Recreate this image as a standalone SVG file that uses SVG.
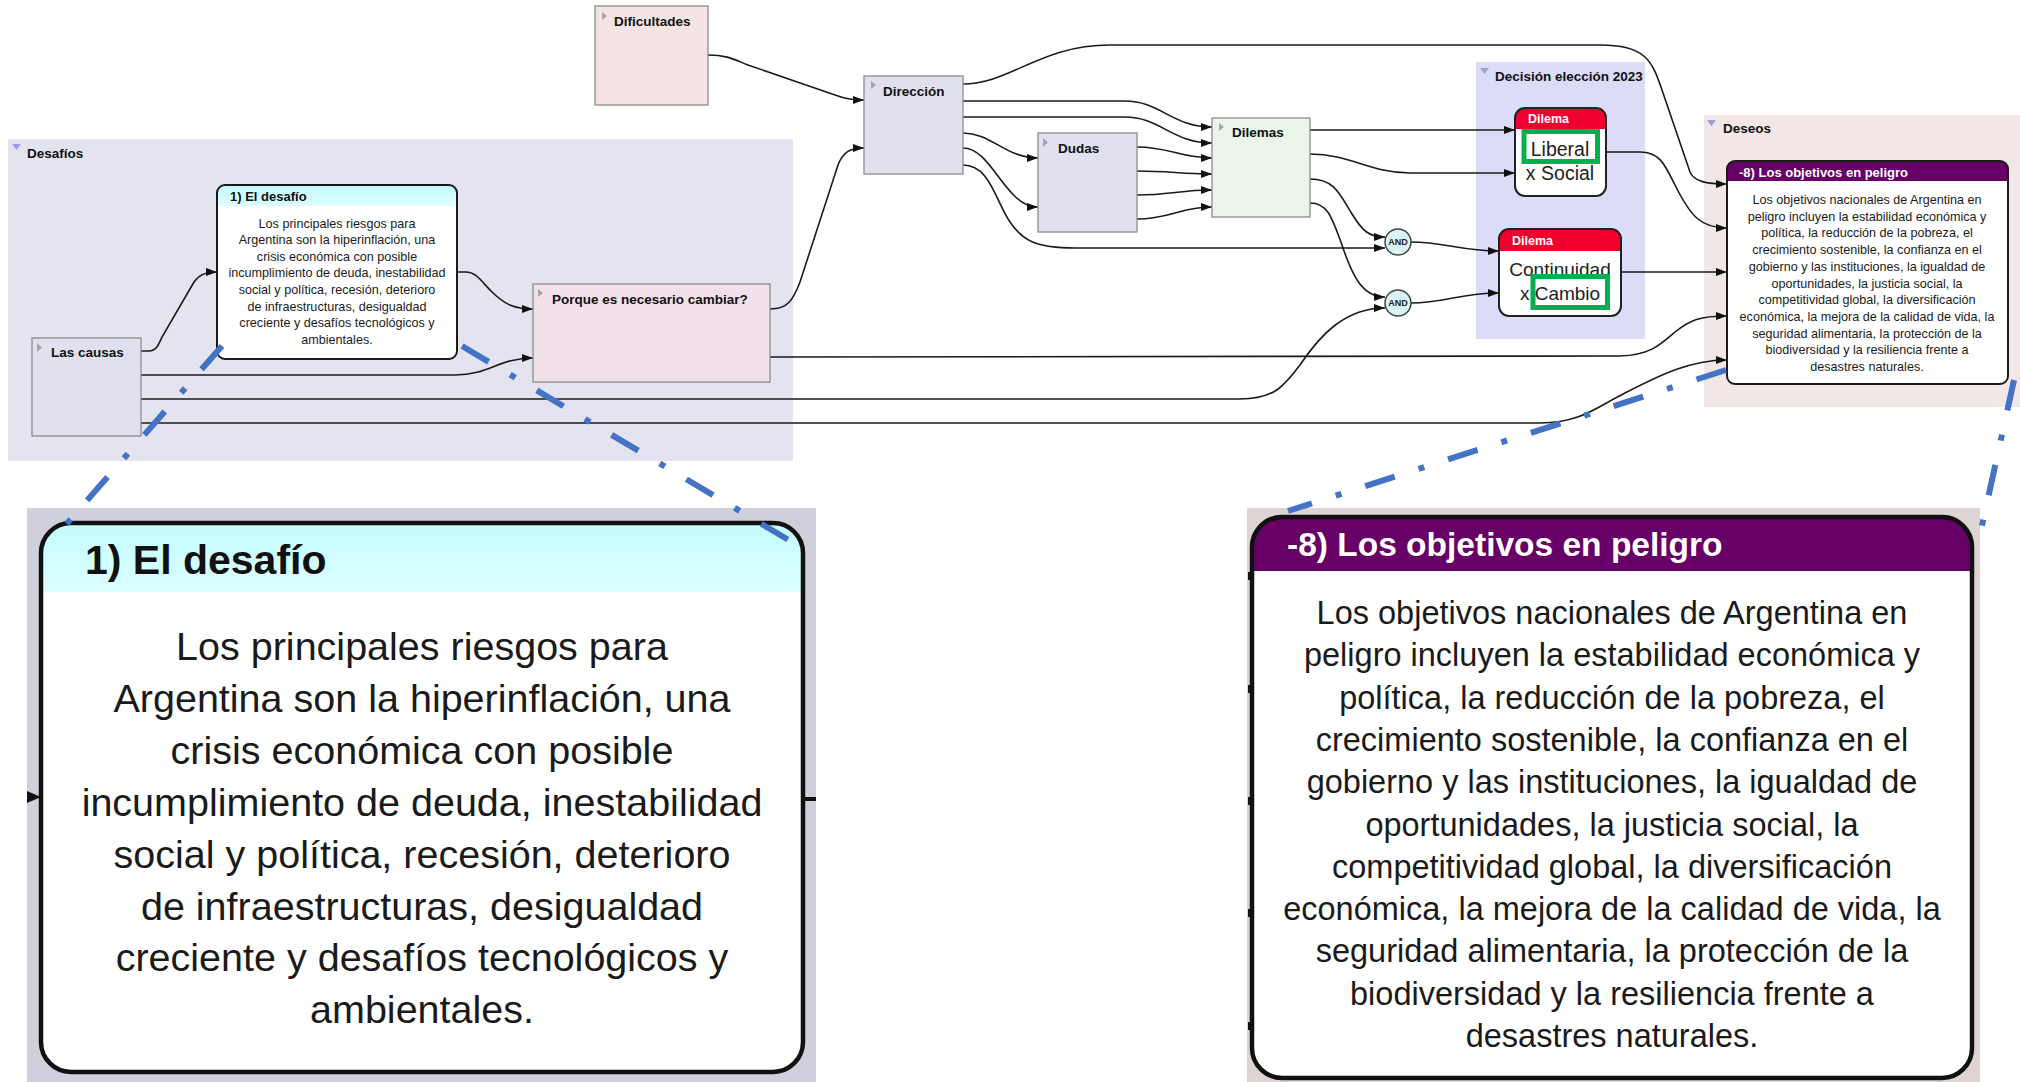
<svg xmlns="http://www.w3.org/2000/svg" width="2020" height="1082" viewBox="0 0 2020 1082">
<defs>
<style>
.conn{fill:none;stroke:#1a1a1a;stroke-width:1.6;marker-end:url(#ah)}
.box{stroke:#8c8c8c;stroke-width:1.3}
.lbl{font-family:'Liberation Sans',Arial,sans-serif;font-weight:bold;font-size:13.5px;fill:#111}
.body{font-family:'Liberation Sans',Arial,sans-serif;font-size:12.6px;fill:#1a1a1a;text-anchor:middle}
.tri{fill:#a4a4ac}
.gtri{fill:#9c9ce0}
.cl{fill:none;stroke:#4472c4;stroke-width:6;stroke-dasharray:31 25 6 25}
.dil{font-family:'Liberation Sans',Arial,sans-serif;font-size:19.5px;fill:#222;text-anchor:middle}
.hdr{font-family:'Liberation Sans',Arial,sans-serif;font-weight:bold;fill:#fff}
.and{font-family:'Liberation Sans',Arial,sans-serif;font-weight:bold;font-size:9px;fill:#222;text-anchor:middle}
</style>
<marker id="ah" viewBox="0 0 10 10" refX="10" refY="5" markerWidth="11" markerHeight="8" markerUnits="userSpaceOnUse" orient="auto" preserveAspectRatio="none"><path d="M0,0 L10,5 L0,10 z" fill="#111"/></marker>
<linearGradient id="cyan" x1="0" y1="0" x2="0" y2="1"><stop offset="0" stop-color="#c4fcfc"/><stop offset="1" stop-color="#dcffff"/></linearGradient>
</defs>
<rect width="2020" height="1082" fill="#ffffff"/>

<g id="group-desafios">
<rect x="8" y="139" width="785" height="322" fill="#e4e4f0"/>
<path class="gtri" d="M12,144 L21,144 L16.5,150 Z"/>
<text class="lbl" x="27" y="157.5">Desafíos</text>
</g>
<g id="group-decision">
<rect x="1476" y="62" width="169" height="277" fill="#dcdcf8"/>
<path class="gtri" d="M1480,68 L1489,68 L1484.5,74 Z"/>
<text class="lbl" x="1495" y="81">Decisión elección 2023</text>
</g>
<g id="group-deseos">
<rect x="1704" y="115" width="316" height="292" fill="#f2e6e6"/>
<path class="gtri" d="M1707,120 L1716,120 L1711.5,126 Z"/>
<text class="lbl" x="1723" y="133">Deseos</text>
</g>

<g id="connectors">
<path class="conn" d="M708,55 C728,55 735,60 748,65 L838,96 C846,99 852,100 864,100"/>
<path class="conn" d="M770,309 C788,309 793,300 800,282 L838,165 C843,152 850,148 864,148"/>
<path class="conn" d="M963,84 C1010,84 1040,45 1110,45 L1600,45 C1645,45 1652,60 1662,90 L1690,172 C1694,181 1705,184 1727,184"/>
<path class="conn" d="M963,101 L1125,101 C1160,101 1172,127 1212,127"/>
<path class="conn" d="M963,117 L1125,117 C1160,117 1172,143 1212,143"/>
<path class="conn" d="M963,133 C992,133 1005,158 1038,158"/>
<path class="conn" d="M963,148 C992,148 1005,207 1038,207"/>
<path class="conn" d="M963,165 C990,165 995,200 1010,222 C1022,240 1035,248 1075,248 L1385,248"/>
<path class="conn" d="M1137,147 C1170,147 1180,158 1212,158"/>
<path class="conn" d="M1137,171 C1170,171 1180,174 1212,174"/>
<path class="conn" d="M1137,195 C1170,195 1180,190 1212,190"/>
<path class="conn" d="M1137,219 C1170,219 1180,207 1212,207"/>
<path class="conn" d="M1310,130 L1515,130"/>
<path class="conn" d="M1310,154 C1350,154 1370,173 1410,173 L1515,173"/>
<path class="conn" d="M1310,179 C1335,179 1340,195 1352,214 C1362,230 1368,237 1385,237"/>
<path class="conn" d="M1310,203 C1328,203 1332,218 1342,245 C1352,275 1362,297 1385,297"/>
<path class="conn" d="M1411,242 C1445,242 1460,251 1499,251"/>
<path class="conn" d="M1411,303 C1445,303 1460,293 1499,293"/>
<path class="conn" d="M1606,152 L1640,152 C1660,152 1665,165 1675,185 C1690,215 1700,228 1727,228"/>
<path class="conn" d="M1621,272 L1727,272"/>
<path class="conn" d="M141,351 L149,351 C156,351 158,346 162,337 L194,282 C199,275 205,272 217,272"/>
<path class="conn" d="M457,272 L466,272 C476,272 481,281 491,291 C505,305 515,309 533,309"/>
<path class="conn" d="M141,375 L455,375 C490,375 498,358 533,358"/>
<path class="conn" d="M141,399 L1240,399 C1275,399 1285,385 1300,365 C1320,335 1345,308 1385,308"/>
<path class="conn" d="M141,423 L1540,423 C1580,423 1595,408 1625,393 C1660,375 1690,360 1727,360"/>
<path class="conn" d="M770,357 L1620,356 C1650,355 1660,345 1675,332 C1690,320 1700,316 1727,316"/>
</g>

<g id="node-dificultades">
<rect class="box" x="595" y="6" width="113" height="99" fill="#f4e4e4"/>
<path class="tri" d="M602,12 L607,16 L602,20 Z"/>
<text class="lbl" x="614" y="26">Dificultades</text>
</g>
<g id="node-direccion">
<rect class="box" x="864" y="76" width="99" height="98" fill="#e0e0ee"/>
<path class="tri" d="M871,81 L876,85 L871,89 Z"/>
<text class="lbl" x="883" y="96">Dirección</text>
</g>
<g id="node-dudas">
<rect class="box" x="1038" y="133" width="99" height="99" fill="#e0e0ee"/>
<path class="tri" d="M1043,138 L1048,142.5 L1043,147 Z"/>
<text class="lbl" x="1058" y="153">Dudas</text>
</g>
<g id="node-dilemas">
<rect class="box" x="1212" y="118" width="98" height="99" fill="#e8f5e8"/>
<path class="tri" d="M1219,123 L1224,127 L1219,131 Z"/>
<text class="lbl" x="1232" y="137">Dilemas</text>
</g>
<g id="node-causas">
<rect class="box" x="32" y="338" width="109" height="98" fill="#e0e0ee"/>
<path class="tri" d="M37,343 L42,347.5 L37,352 Z"/>
<text class="lbl" x="51" y="357">Las causas</text>
</g>
<g id="node-porque">
<rect class="box" x="533" y="284" width="237" height="98" fill="#f2e0ea"/>
<path class="tri" d="M538,289 L543,293 L538,297 Z"/>
<text class="lbl" x="552" y="303.5">Porque es necesario cambiar?</text>
</g>
<g id="node-desafio">
<rect x="217" y="185" width="240" height="174" rx="8" fill="#ffffff"/>
<path d="M217,206 L217,193 Q217,185 225,185 L449,185 Q457,185 457,193 L457,206 Z" fill="url(#cyan)"/>
<rect x="217" y="185" width="240" height="174" rx="8" fill="none" stroke="#1a1a1a" stroke-width="2"/>
<text class="lbl" x="230" y="200.5" style="font-size:13px">1) El desafío</text>
<text class="body" x="337" y="227.5">Los principales riesgos para</text>
<text class="body" x="337" y="244.1">Argentina son la hiperinflación, una</text>
<text class="body" x="337" y="260.7">crisis económica con posible</text>
<text class="body" x="337" y="277.3">incumplimiento de deuda, inestabilidad</text>
<text class="body" x="337" y="293.9">social y política, recesión, deterioro</text>
<text class="body" x="337" y="310.5">de infraestructuras, desigualdad</text>
<text class="body" x="337" y="327.1">creciente y desafíos tecnológicos y</text>
<text class="body" x="337" y="343.7">ambientales.</text>
</g>
<g id="node-and1">
<circle cx="1398" cy="242" r="13" fill="#d8f4f4" stroke="#444" stroke-width="1.5"/>
<text class="and" x="1398" y="245.2">AND</text>
</g>
<g id="node-and2">
<circle cx="1398" cy="303" r="13" fill="#d8f4f4" stroke="#444" stroke-width="1.5"/>
<text class="and" x="1398" y="306.2">AND</text>
</g>
<g id="node-dilema1">
<rect x="1515" y="108" width="91" height="88" rx="10" fill="#ffffff"/>
<path d="M1515,129 L1515,118 Q1515,108 1525,108 L1596,108 Q1606,108 1606,118 L1606,129 Z" fill="#f0002e"/>
<rect x="1515" y="108" width="91" height="88" rx="10" fill="none" stroke="#222" stroke-width="2"/>
<text class="hdr" x="1528" y="123" style="font-size:12.5px">Dilema</text>
<rect x="1524" y="131.5" width="73.5" height="30" fill="#ffffff" stroke="#00b050" stroke-width="5"/>
<text class="dil" x="1560" y="156">Liberal</text>
<text class="dil" x="1560" y="180">x Social</text>
</g>
<g id="node-dilema2">
<rect x="1499" y="229" width="122" height="87" rx="10" fill="#ffffff"/>
<path d="M1499,251 L1499,239 Q1499,229 1509,229 L1611,229 Q1621,229 1621,239 L1621,251 Z" fill="#f0002e"/>
<rect x="1499" y="229" width="122" height="87" rx="10" fill="none" stroke="#222" stroke-width="2"/>
<text class="hdr" x="1512" y="245" style="font-size:12.5px">Dilema</text>
<text class="dil" x="1560" y="276" style="font-size:19px">Continuidad</text>
<rect x="1533" y="276.5" width="74.5" height="31" fill="#ffffff" stroke="#00b050" stroke-width="5"/>
<text class="dil" x="1560" y="300" style="font-size:19px">x Cambio</text>
</g>
<g id="node-objetivos">
<rect x="1727" y="161" width="281" height="223" rx="8" fill="#ffffff"/>
<path d="M1727,181 L1727,169 Q1727,161 1735,161 L2000,161 Q2008,161 2008,169 L2008,181 Z" fill="#660066"/>
<rect x="1727" y="161" width="281" height="223" rx="8" fill="none" stroke="#1a1a1a" stroke-width="2"/>
<text class="hdr" x="1739" y="177" style="font-size:13px">-8) Los objetivos en peligro</text>
<text class="body" x="1867" y="204">Los objetivos nacionales de Argentina en</text>
<text class="body" x="1867" y="220.7">peligro incluyen la estabilidad económica y</text>
<text class="body" x="1867" y="237.4">política, la reducción de la pobreza, el</text>
<text class="body" x="1867" y="254.1">crecimiento sostenible, la confianza en el</text>
<text class="body" x="1867" y="270.8">gobierno y las instituciones, la igualdad de</text>
<text class="body" x="1867" y="287.5">oportunidades, la justicia social, la</text>
<text class="body" x="1867" y="304.2">competitividad global, la diversificación</text>
<text class="body" x="1867" y="320.9">económica, la mejora de la calidad de vida, la</text>
<text class="body" x="1867" y="337.6">seguridad alimentaria, la protección de la</text>
<text class="body" x="1867" y="354.3">biodiversidad y la resiliencia frente a</text>
<text class="body" x="1867" y="371">desastres naturales.</text>
</g>

<g id="callout-desafio">
<rect x="27" y="508" width="789" height="574" fill="#d0d0dc"/>
<path d="M27,791 L41,797 L27,803 Z" fill="#111"/>
<line x1="803" y1="799" x2="816" y2="799" stroke="#111" stroke-width="4"/>
<rect x="41" y="523" width="762" height="549" rx="30" fill="#ffffff"/>
<path d="M41,592 L41,553 Q41,523 71,523 L773,523 Q803,523 803,553 L803,592 Z" fill="url(#cyan)"/>
<rect x="41" y="523" width="762" height="549" rx="30" fill="none" stroke="#111" stroke-width="4.5"/>
<text class="lbl" x="85" y="574" style="font-size:41px">1) El desafío</text>
<g class="body" style="font-size:39.5px">
<text x="422" y="660">Los principales riesgos para</text>
<text x="422" y="712">Argentina son la hiperinflación, una</text>
<text x="422" y="764">crisis económica con posible</text>
<text x="422" y="816">incumplimiento de deuda, inestabilidad</text>
<text x="422" y="868">social y política, recesión, deterioro</text>
<text x="422" y="920">de infraestructuras, desigualdad</text>
<text x="422" y="971">creciente y desafíos tecnológicos y</text>
<text x="422" y="1023">ambientales.</text>
</g>
</g>

<g id="callout-objetivos">
<rect x="1247" y="508" width="733" height="574" fill="#ded4d4"/>
<rect x="1248" y="572" width="4" height="8" fill="#111"/>
<rect x="1248" y="685" width="4" height="8" fill="#111"/>
<rect x="1248" y="797" width="4" height="8" fill="#111"/>
<rect x="1248" y="909" width="4" height="8" fill="#111"/>
<rect x="1248" y="1022" width="4" height="8" fill="#111"/>
<rect x="1252" y="517" width="720" height="561" rx="30" fill="#ffffff"/>
<path d="M1252,571 L1252,547 Q1252,517 1282,517 L1942,517 Q1972,517 1972,547 L1972,571 Z" fill="#660066"/>
<rect x="1252" y="517" width="720" height="561" rx="30" fill="none" stroke="#111" stroke-width="4.5"/>
<text class="hdr" x="1287" y="556" style="font-size:33.5px">-8) Los objetivos en peligro</text>
<g class="body" style="font-size:32.5px">
<text x="1612" y="624">Los objetivos nacionales de Argentina en</text>
<text x="1612" y="666.3">peligro incluyen la estabilidad económica y</text>
<text x="1612" y="708.6">política, la reducción de la pobreza, el</text>
<text x="1612" y="750.9">crecimiento sostenible, la confianza en el</text>
<text x="1612" y="793.2">gobierno y las instituciones, la igualdad de</text>
<text x="1612" y="835.5">oportunidades, la justicia social, la</text>
<text x="1612" y="877.8">competitividad global, la diversificación</text>
<text x="1612" y="920.1">económica, la mejora de la calidad de vida, la</text>
<text x="1612" y="962.4">seguridad alimentaria, la protección de la</text>
<text x="1612" y="1004.7">biodiversidad y la resiliencia frente a</text>
<text x="1612" y="1047">desastres naturales.</text>
</g>
</g>

<g id="callout-lines">
<line class="cl" x1="222" y1="346" x2="63" y2="528"/>
<line class="cl" x1="462" y1="346" x2="792" y2="542"/>
<line class="cl" x1="1726" y1="370" x2="1288" y2="511"/>
<line class="cl" x1="2014" y1="380" x2="1981" y2="530"/>
</g>
</svg>
